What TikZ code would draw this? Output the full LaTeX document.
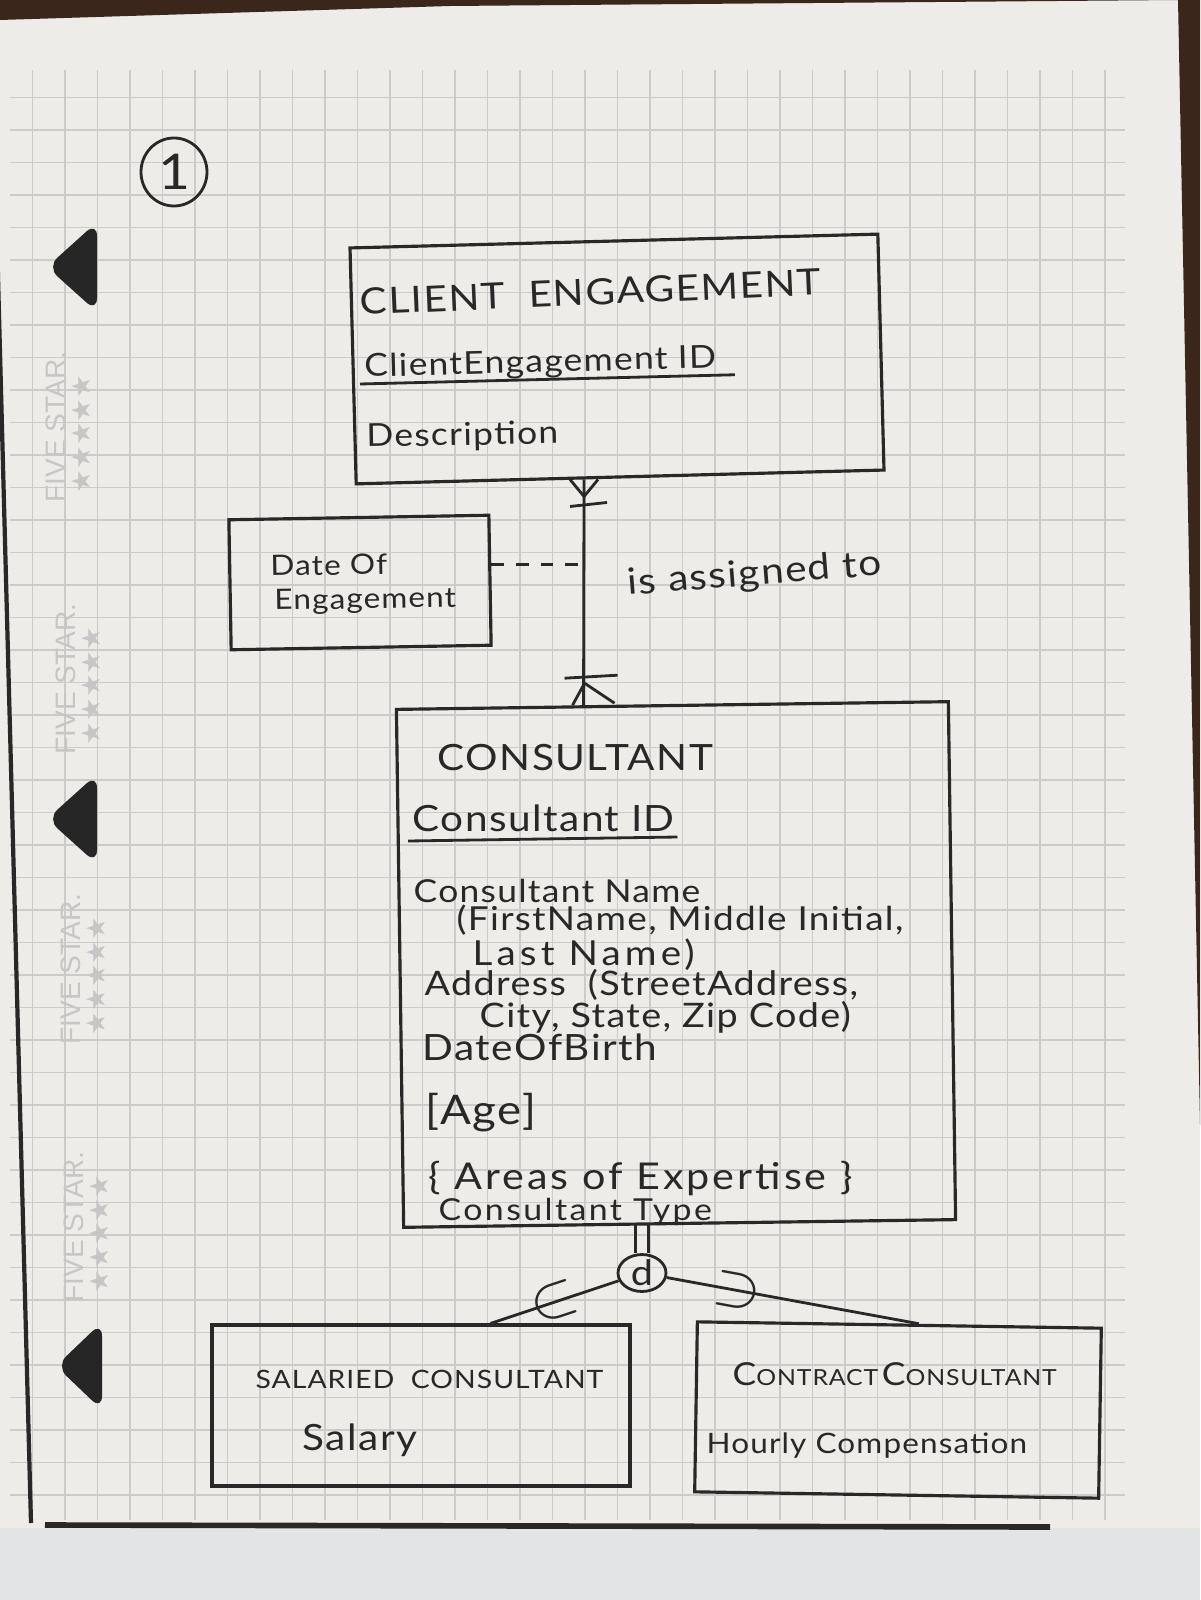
\documentclass[tikz,border=0pt]{standalone}
\usepackage{fontspec}
\setmainfont{Lato}[LetterSpace=4, FakeStretch=1.12]
\newfontfamily\markfont{Liberation Sans}
\newfontfamily\starfont{DejaVu Sans}
\usepackage{xcolor}
\usetikzlibrary{shapes.geometric}

\definecolor{paper}{RGB}{237,236,233}
\definecolor{gridc}{RGB}{203,203,201}
\definecolor{ink}{RGB}{40,40,40}
\definecolor{tabc}{RGB}{38,38,38}
\definecolor{wood}{RGB}{58,38,26}
\definecolor{tablec}{RGB}{227,228,229}
\definecolor{brandc}{RGB}{198,198,198}

\begin{document}
\begin{tikzpicture}[
		entity/.style={draw=ink, line width=0.9pt, inner sep=0pt},
		hand/.style={text=ink, inner sep=0pt, anchor=base west, font=\fontsize{#1}{#1}\selectfont},
		hand/.default=9,
		link/.style={draw=ink, line width=0.8pt},
		tab/.style={fill=tabc, rounded corners=4pt},
		brand/.style={text=brandc, inner sep=0pt, rotate=90, font=\markfont\fontsize{8}{8}\selectfont},
		brandstars/.style={text=brandc, inner sep=0pt, rotate=90, font=\starfont\fontsize{7.5}{7.5}\selectfont}
	]
		\useasboundingbox (0,0) rectangle (12,-16);

		% the sheet
		\fill[paper] (0,0) rectangle (12,-16);
		\fill[tablec] (0,-15.28) rectangle (12,-16);
		\fill[wood] (0,0) -- (11.8,0) -- (4.5,-0.06) -- (0,-0.2) -- cycle;
		\fill[wood] (11.78,0) -- (12,0) -- (12,-11.25) -- cycle;
		\draw[step=3.25mm,gridc,line width=0.5pt] (0.1,-15.2) grid (11.25,-0.7);
		\draw[ink,line width=1.2pt] (-0.08,-0.5) -- (0.31,-15.23);
		\draw[ink,line width=1.6pt] (0.45,-15.25) -- (10.5,-15.27);

		\fill[tab] (0.97,-2.22) -- (0.97,-3.12) -- (0.47,-2.67) -- cycle;
		\fill[tab] (0.97,-7.74) -- (0.97,-8.64) -- (0.47,-8.19) -- cycle;
		\fill[tab] (1.02,-13.22) -- (1.02,-14.10) -- (0.56,-13.66) -- cycle;

		\node[brand] (brandA) at (0.56,-4.27) {FIVE STAR.};
		\node[brandstars] (starsA) at (0.81,-4.34) {★★★★★};
		\node[brand] (brandB) at (0.66,-6.79) {FIVE STAR.};
		\node[brandstars] (starsB) at (0.91,-6.86) {★★★★★};
		\node[brand] (brandC) at (0.71,-9.69) {FIVE STAR.};
		\node[brandstars] (starsC) at (0.96,-9.76) {★★★★★};
		\node[brand] (brandD) at (0.74,-12.27) {FIVE STAR.};
		\node[brandstars] (starsD) at (0.99,-12.34) {★★★★★};

		\node[draw=ink, ellipse, line width=0.8pt, minimum width=0.66cm, minimum height=0.68cm, inner sep=0pt, text=ink, font=\fontsize{14}{14}\selectfont] (pageNo) at (1.74,-1.72) {1};

		% entities
		\node[entity, minimum width=5.28cm, minimum height=2.36cm, rotate=1.5] (ce) at (6.17,-3.59) {};
		\node[entity, minimum width=2.60cm, minimum height=1.30cm, rotate=1] (doe) at (3.60,-5.825) {};
		\node[entity, minimum width=5.52cm, minimum height=5.18cm, rotate=0.8] (con) at (6.76,-9.645) {};
		\node[entity, minimum width=4.18cm, minimum height=1.61cm] (sal) at (4.21,-14.055) {};
		\node[entity, minimum width=4.04cm, minimum height=1.70cm, rotate=-0.9] (ctr) at (8.98,-14.10) {};
		\node[draw=ink, ellipse, line width=0.8pt, minimum width=0.48cm, minimum height=0.36cm, inner sep=0pt, text=ink, font=\fontsize{10}{10}\selectfont] (dsj) at (6.42,-12.73) {d};

		% client engagement
		\node[hand=10.3, rotate=2.5] (ceName) at (3.60,-3.15) {CLIENT\ \ ENGAGEMENT};
		\node[hand, rotate=1.5] (ceKey) at (3.64,-3.77) {ClientEngagement ID};
		\draw[link] ([shift={(-0.04,-0.07)}]ceKey.base west) -- ([shift={(0.18,-0.07)}]ceKey.base east);
		\node[hand, rotate=1] (ceDesc) at (3.66,-4.47) {Description};

		% date of engagement
		\node[hand=8, rotate=1] (doeA) at (2.70,-5.76) {Date Of};
		\node[hand=8, rotate=1] (doeB) at (2.74,-6.10) {Engagement};

		% relationship
		\path (ce.south west) -- (ce.south east) coordinate[pos=0.432] (relTop);
		\path (con.north west) -- (con.north east) coordinate[pos=0.34] (relBot);
		\path (doe.north east) -- (doe.south east) coordinate[pos=0.385] (doeLink);
		\draw[link] (relTop) -- (relBot);
		\draw[link] ([xshift=-1.4mm]relTop) -- ([yshift=-1.7mm]relTop) -- ([xshift=1.4mm]relTop);
		\draw[link] ([shift={(-1.4mm,-2.7mm)}]relTop) -- ([shift={(2.3mm,-2.3mm)}]relTop);
		\draw[link] ([shift={(-1.1mm,0mm)}]relBot) -- ([shift={(0.1mm,2.2mm)}]relBot) -- ([shift={(3.1mm,0.2mm)}]relBot);
		\draw[link] ([shift={(-1.9mm,2.7mm)}]relBot) -- ([shift={(3.4mm,3.0mm)}]relBot);
		\draw[link, dash pattern=on 3.6pt off 3.4pt] (doeLink) -- (doeLink -| relTop);
		\node[hand=10.3, rotate=4.5] (relName) at (6.28,-5.95) {is assigned to};

		% consultant
		\node[hand=10.3] (conName) at (4.37,-7.70) {CONSULTANT};
		\node[hand=10.3] (conKey) at (4.12,-8.31) {Consultant ID};
		\draw[link] ([shift={(-0.04,-0.10)}]conKey.base west) -- ([shift={(0.02,-0.06)}]conKey.base east);
		\node[hand] (conA) at (4.13,-9.02) {Consultant Name};
		\node[hand=9.4] (conB) at (4.56,-9.30) {(FirstName, Middle Initial,};
		\node[hand=9.8] (conC) at (4.72,-9.65) {\addfontfeatures{LetterSpace=12}Last Name)};
		\node[hand=9.6] (conD) at (4.24,-9.95) {Address\ \ (StreetAddress,};
		\node[hand=9.6] (conE) at (4.79,-10.27) {City, State, Zip Code)};
		\node[hand=10.3] (conF) at (4.22,-10.60) {DateOfBirth};
		\node[hand=11.6] (conG) at (4.25,-11.24) {[Age]};
		\node[hand=10.5] (conH) at (4.28,-11.89) {\addfontfeatures{LetterSpace=8}\{ Areas of Expertise \}};
		\node[hand=8.6] (conI) at (4.38,-12.20) {\addfontfeatures{LetterSpace=8}Consultant Type};

		% disjoint subtypes
		\coordinate (dsjL) at ([xshift=-0.65mm]dsj.north);
		\coordinate (dsjR) at ([xshift=0.65mm]dsj.north);
		\draw[link] (dsjL) -- (dsjL |- con.south);
		\draw[link] (dsjR) -- (dsjR |- con.south);
		\path (sal.north west) -- (sal.north east) coordinate[pos=0.665] (salLink);
		\path (ctr.north west) -- (ctr.north east) coordinate[pos=0.548] (ctrLink);
		\draw[link] (dsj) -- (salLink) node[sloped, pos=0.5, inner sep=0pt, text=ink, font=\LARGE] (subL) {$\subset$};
		\draw[link] (dsj) -- (ctrLink) node[sloped, pos=0.28, inner sep=0pt, text=ink, font=\LARGE] (subR) {$\supset$};

		\node[hand=7.2] (salName) at (2.55,-13.88) {SALARIED\ \ CONSULTANT};
		\node[hand=10.3] (salAttr) at (3.02,-14.50) {Salary};
		\node[hand=6.3] (ctrName) at (7.32,-13.85) {{\fontsize{9}{9}\selectfont C}ONTRACT\,{\fontsize{9}{9}\selectfont C}ONSULTANT};
		\node[hand=8] (ctrAttr) at (7.06,-14.53) {Hourly Compensation};

	\end{tikzpicture}
\end{document}
